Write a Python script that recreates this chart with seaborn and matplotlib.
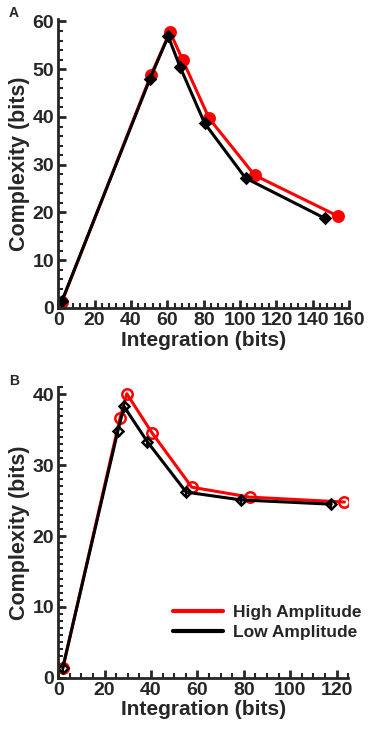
import matplotlib
matplotlib.use("Agg")
import matplotlib.pyplot as plt
from matplotlib.ticker import MultipleLocator
import seaborn as sns
import pandas as pd

# Panel A values
a_int_high = [2, 51, 61.5, 68.5, 83, 108, 154]
a_cx_high = [1.2, 48.8, 57.8, 51.9, 39.7, 27.8, 19.2]
a_int_low = [2, 50.5, 60.5, 67, 80.5, 103, 146.5]
a_cx_low = [1.4, 48.0, 56.9, 50.5, 38.7, 27.2, 18.8]

# Panel B values
b_int_high = [2, 26.7, 29.6, 40.4, 57.6, 82.5, 123.4]
b_cx_high = [1.3, 36.7, 40.1, 34.6, 26.9, 25.5, 24.8]
b_int_low = [2, 25.7, 28.4, 38.5, 55.2, 78.9, 117.7]
b_cx_low = [1.4, 34.8, 38.3, 33.3, 26.2, 25.1, 24.5]

series = ["High Amplitude", "Low Amplitude"]

sns.set_theme(style="ticks")
plt.rcParams['font.family'] = ['Liberation Sans', 'DejaVu Sans']
plt.rcParams['font.weight'] = 'bold'

fig = plt.figure(figsize=(3.68, 7.35), dpi=100)
axA = fig.add_axes([0.158, 0.581, 0.791, 0.393])
axB = fig.add_axes([0.158, 0.078, 0.788, 0.395])


def make_df(xh, yh, xl, yl):
    return pd.concat([
        pd.DataFrame({"x": xh, "y": yh, "s": series[0], "o": range(len(xh))}),
        pd.DataFrame({"x": xl, "y": yl, "s": series[1], "o": range(len(xl))}),
    ])


def draw(ax, df, filled):
    for name, col, mk in [(series[0], "red", "o"), (series[1], "black", "D")]:
        sub = df[df.s == name]
        sns.lineplot(data=sub, x="x", y="y", sort=False, color=col, lw=2.2,
                     marker=mk, markersize=7.5 if mk == "o" else 5.5,
                     markerfacecolor=col if filled else "none",
                     markeredgecolor=col, markeredgewidth=1.8,
                     ax=ax, label=name, legend=False)
        if name == series[1]:
            ax.errorbar(sub.x, sub.y, yerr=0.6, fmt="none", ecolor=col, lw=1.5)


draw(axA, make_df(a_int_high, a_cx_high, a_int_low, a_cx_low), True)
draw(axB, make_df(b_int_high, b_cx_high, b_int_low, b_cx_low), False)

axA.set_xlim(0, 160)
axA.set_ylim(0, 60.5)
axA.xaxis.set_major_locator(MultipleLocator(20))
axA.xaxis.set_minor_locator(MultipleLocator(4))
axA.yaxis.set_major_locator(MultipleLocator(10))
axA.yaxis.set_minor_locator(MultipleLocator(2))

axB.set_xlim(0, 125)
axB.set_ylim(0, 41)
axB.xaxis.set_major_locator(MultipleLocator(20))
axB.xaxis.set_minor_locator(MultipleLocator(5))
axB.yaxis.set_major_locator(MultipleLocator(10))
axB.yaxis.set_minor_locator(MultipleLocator(1))

for ax, lab in [(axA, "A"), (axB, "B")]:
    sns.despine(ax=ax)
    for sp in ["left", "bottom"]:
        ax.spines[sp].set_linewidth(2)
    ax.tick_params(which="major", direction="in", length=6, width=2,
                   labelsize=14, pad=3)
    ax.tick_params(which="minor", direction="in", length=3.5, width=1.5)
    for t in ax.get_xticklabels() + ax.get_yticklabels():
        t.set_fontweight("bold")
    ax.set_xlabel("Integration (bits)", fontsize=15, fontweight="bold", labelpad=1)
    ax.set_ylabel("Complexity (bits)", fontsize=15.5, fontweight="bold", labelpad=2)
    ax.text(-0.17, 1.045, lab, transform=ax.transAxes, fontsize=10,
            fontweight="bold", va="top", ha="left")

leg = axB.legend(loc="lower right", bbox_to_anchor=(1.1, 0.075), frameon=False,
                 fontsize=12.5, handlelength=2.9, handletextpad=0.55,
                 labelspacing=0.3)
for h in leg.get_lines():
    h.set_marker("")
    h.set_linewidth(3)
for t in leg.get_texts():
    t.set_fontweight("bold")

fig.savefig("out.png", dpi=100)
